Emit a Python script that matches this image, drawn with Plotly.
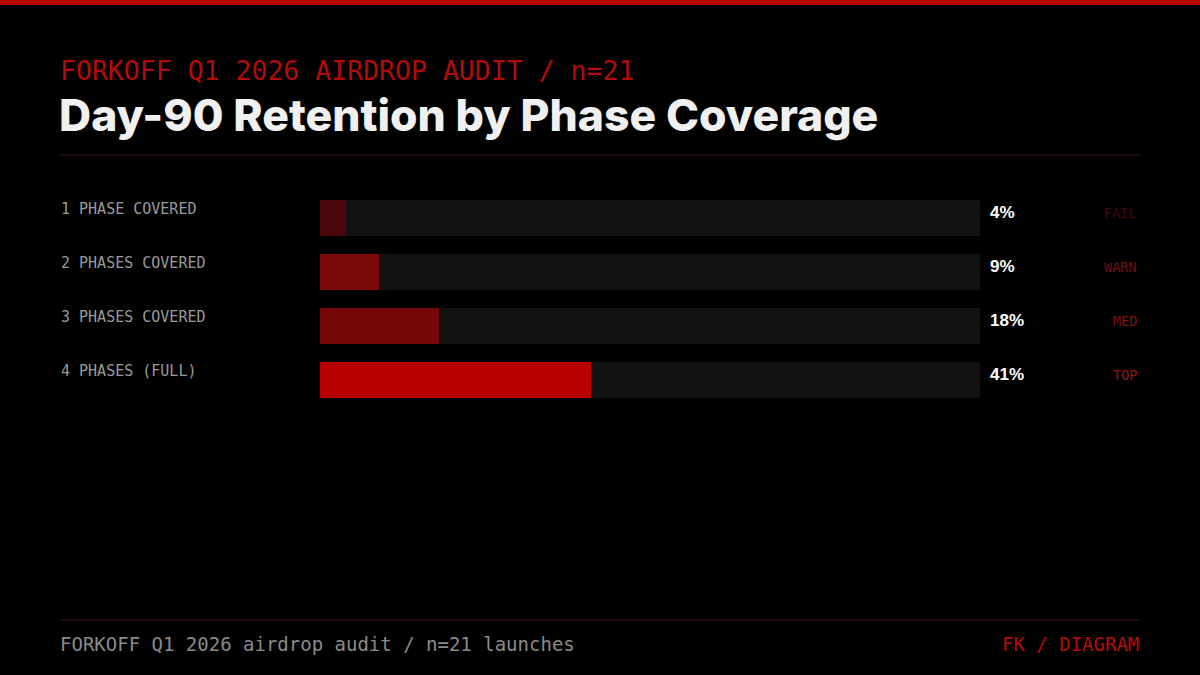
import plotly.graph_objects as go

categories = ["1 PHASE COVERED", "2 PHASES COVERED", "3 PHASES COVERED", "4 PHASES (FULL)"]
retention = [4, 9, 18, 41]
value_labels = ["4%", "9%", "18%", "41%"]
status = ["FAIL", "WARN", "MED", "TOP"]
bar_colors = ["#48050a", "#7d0808", "#760707", "#b80000"]
status_colors = ["#3e0a0c", "#6e1212", "#7a1111", "#9c1010"]

W, H = 1200, 675
def px(x): return x / W
def py(y): return 1 - y / H

fig = go.Figure()
fig.add_trace(go.Bar(y=categories, x=[100] * len(categories), orientation="h",
                     marker=dict(color="#111111", line=dict(width=0)),
                     width=0.6667, hoverinfo="skip", showlegend=False))
fig.add_trace(go.Bar(y=categories, x=retention, orientation="h",
                     marker=dict(color=bar_colors, line=dict(width=0)),
                     width=0.6667, showlegend=False))

ann = []
mono = "DejaVu Sans Mono"
for c, v, s, sc in zip(categories, value_labels, status, status_colors):
    ann.append(dict(x=px(59), y=c, xref="paper", yref="y", text=c, showarrow=False,
                    xanchor="left", yanchor="middle", yshift=9,
                    font=dict(family=mono, size=15, color="#9a9a9a")))
    ann.append(dict(x=px(988), y=c, xref="paper", yref="y", text=v, showarrow=False,
                    xanchor="left", yanchor="middle", yshift=6,
                    font=dict(family="Liberation Sans", size=17, color="#ffffff", weight=700)))
    ann.append(dict(x=px(1139), y=c, xref="paper", yref="y", text=s, showarrow=False,
                    xanchor="right", yanchor="middle", yshift=5,
                    font=dict(family=mono, size=13.5, color=sc)))

ann += [
    dict(x=px(58), y=py(70), xref="paper", yref="paper", text="FORKOFF Q1 2026 AIRDROP AUDIT / n=21",
         showarrow=False, xanchor="left", yanchor="middle",
         font=dict(family=mono, size=26.5, color="#b30b0b")),
    dict(x=px(57), y=py(115), xref="paper", yref="paper", text="Day-90 Retention by Phase Coverage",
         showarrow=False, xanchor="left", yanchor="middle",
         font=dict(family="Inter", size=44.5, color="#f0f0f0", weight=800)),
    dict(x=px(58), y=py(644), xref="paper", yref="paper", text="FORKOFF Q1 2026 airdrop audit / n=21 launches",
         showarrow=False, xanchor="left", yanchor="middle",
         font=dict(family=mono, size=19, color="#8a8a8a")),
    dict(x=px(1141), y=py(644), xref="paper", yref="paper", text="FK / DIAGRAM",
         showarrow=False, xanchor="right", yanchor="middle",
         font=dict(family=mono, size=19, color="#b30b0b")),
]

shapes = [
    dict(type="rect", xref="paper", yref="paper", x0=0, x1=1, y0=py(5), y1=1,
         fillcolor="#b80000", line=dict(width=0), layer="above"),
    dict(type="line", xref="paper", yref="paper", x0=px(60), x1=px(1140), y0=py(155), y1=py(155),
         line=dict(color="#2a1014", width=1.5)),
    dict(type="line", xref="paper", yref="paper", x0=px(60), x1=px(1140), y0=py(620), y1=py(620),
         line=dict(color="#2a1014", width=1.5)),
]

fig.update_layout(
    width=W, height=H, paper_bgcolor="#000000", plot_bgcolor="#000000",
    margin=dict(l=0, r=0, t=0, b=0), barmode="overlay", bargap=0,
    xaxis=dict(domain=[px(320), px(980)], range=[0, 100], visible=False, fixedrange=True),
    yaxis=dict(domain=[py(407), py(191)], range=[3.5, -0.5], visible=False,
               categoryorder="array", categoryarray=categories, fixedrange=True),
    annotations=ann, shapes=shapes, showlegend=False,
)

fig.write_html("out.html")
